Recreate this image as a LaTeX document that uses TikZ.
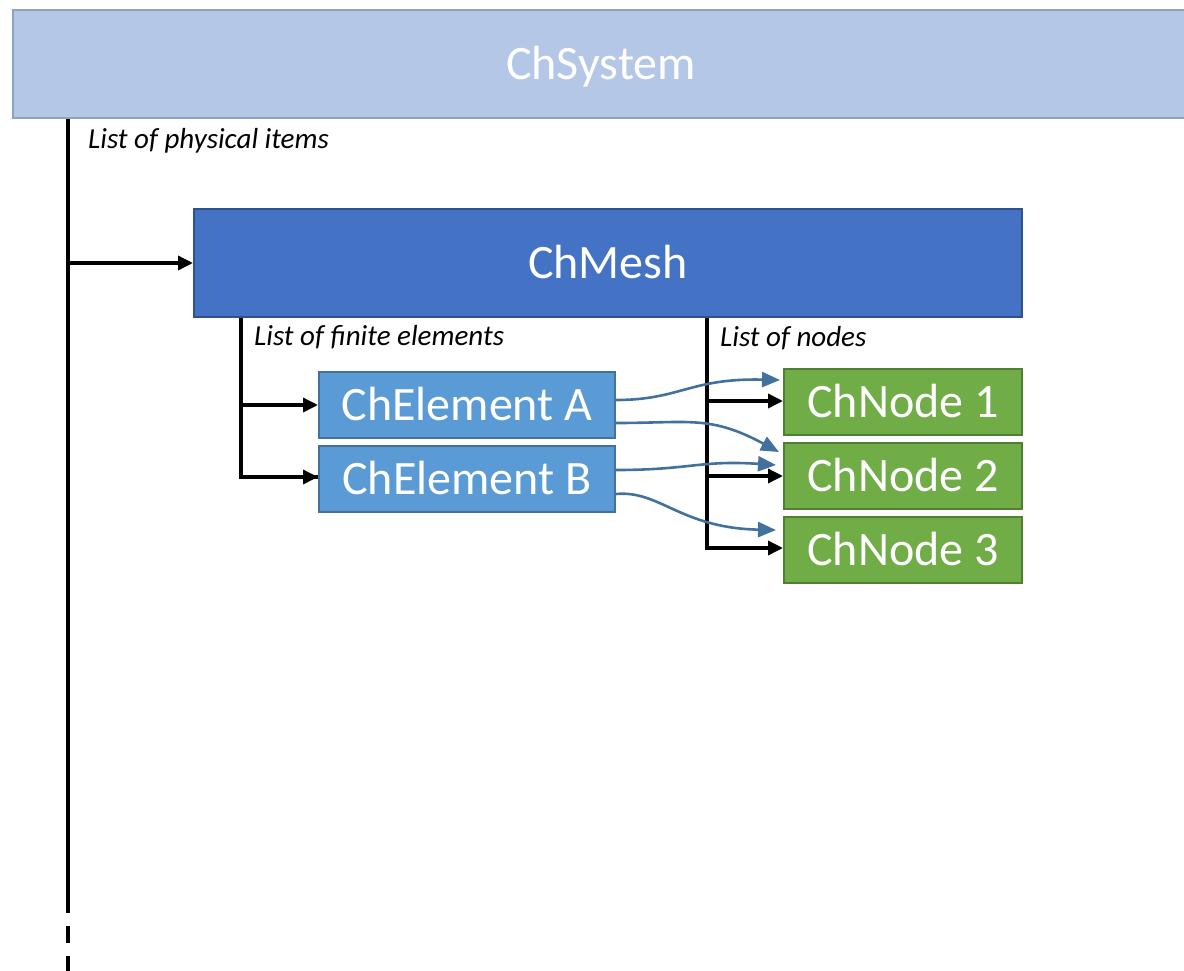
\documentclass[tikz,border=0pt]{standalone}
\usepackage{fontspec}
\setmainfont{Carlito}
\usetikzlibrary{arrows.meta,positioning}

\definecolor{sysfill}{HTML}{B4C7E7}
\definecolor{sysdraw}{HTML}{8EA2C2}
\definecolor{meshfill}{HTML}{4472C4}
\definecolor{meshdraw}{HTML}{2F528F}
\definecolor{elemfill}{HTML}{5B9BD5}
\definecolor{elemdraw}{HTML}{41719C}
\definecolor{nodefill}{HTML}{70AD47}
\definecolor{nodedraw}{HTML}{507E32}
\definecolor{linkblue}{HTML}{41719C}

\tikzset{
  box/.style={draw, line width=2pt, anchor=north west, inner sep=0pt,
    text=white, font=\fontsize{48}{50}\selectfont,
    text height=31pt, text depth=0pt},
  sysbox/.style={box, fill=sysfill, draw=sysdraw, minimum width=1176pt, minimum height=108pt},
  meshbox/.style={box, fill=meshfill, draw=meshdraw, minimum width=828pt, minimum height=108pt},
  elembox/.style={box, fill=elemfill, draw=elemdraw, minimum width=296pt, minimum height=66pt},
  chnodebox/.style={box, fill=nodefill, draw=nodedraw, minimum width=238pt, minimum height=66pt},
  listlabel/.style={anchor=west, inner sep=0pt, font=\fontsize{29}{31}\selectfont\itshape},
  tree/.style={line width=4pt, black},
  treearrow/.style={line width=3.5pt, black, -{Triangle[length=15pt,width=14pt]}},
  link/.style={line width=2.6pt, linkblue, -{Triangle[length=18pt,width=15pt]}},
}

\begin{document}
\begin{tikzpicture}[x=1pt, y=-1pt]
\useasboundingbox (0,0) rectangle (1184,970);

% containers
\node[sysbox]  (sys)  at (12,9)    {ChSystem};
\node[meshbox] (mesh) at (193,208) {ChMesh};
\node[elembox] (ea)   at (318,371) {ChElement A};
\node[elembox] (eb)   at (318,445) {ChElement B};
\node[chnodebox] (n1) at (783,368) {ChNode 1};
\node[chnodebox] (n2) at (783,442) {ChNode 2};
\node[chnodebox] (n3) at (783,516) {ChNode 3};

% list labels
\node[listlabel] (lphys)  at (88,141)  {List of physical items};
\node[listlabel] (lfin)   at (254,337) {List of finite elements};
\node[listlabel] (lnodes) at (720,338) {List of nodes};

% list of physical items
\coordinate (ptop) at (sys.south -| 68,0);
\coordinate (pend) at (68,913);
\draw[tree] (ptop) -- (pend);
\draw[tree, dash pattern=on 17pt off 13pt] (68,926) -- (68,975);
\draw[treearrow] (68,263) -- (mesh.west |- 0,263);

% list of finite elements
\coordinate (ftop) at (mesh.south -| 241,0);
\draw[tree] (ftop) -- (241,477) -- (eb.west |- 0,477);
\draw[treearrow] (241,405) -- (ea.west |- 0,405);
\draw[treearrow] (241,477) -- (eb.west |- 0,477);

% list of nodes
\coordinate (ntop) at (mesh.south -| 707,0);
\draw[tree] (ntop) -- (707,548);
\draw[treearrow] (707,401) -- (n1.west |- 0,401);
\draw[treearrow] (707,476) -- (n2.west |- 0,476);
\draw[treearrow] (705,548) -- (n3.west |- 0,548);

% element-to-node references
\draw[link] (ea.east |- 0,400) .. controls (680,400) and (690,378) .. (780,380);
\draw[link] (ea.east |- 0,423) .. controls (690,423) and (710,415) .. (779,452);
\draw[link] (eb.east |- 0,470) .. controls (690,470) and (700,460) .. (776,465);
\draw[link] (eb.east |- 0,494) .. controls (660,490) and (680,528) .. (776,530);
\end{tikzpicture}
\end{document}
